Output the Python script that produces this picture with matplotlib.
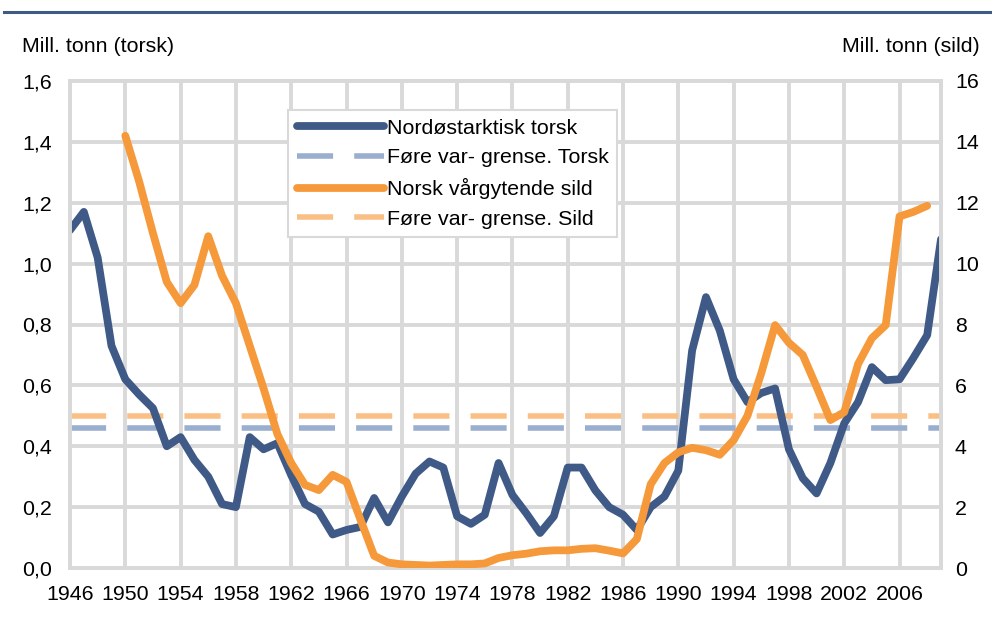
import numpy as np
import matplotlib
matplotlib.use("Agg")
import matplotlib.pyplot as plt
from matplotlib.lines import Line2D

# Data
torsk_years = list(range(1946, 2010))
torsk = [1.11, 1.17, 1.02, 0.73, 0.62, 0.57, 0.525, 0.40, 0.43, 0.355,
         0.30, 0.21, 0.20, 0.43, 0.39, 0.41, 0.305, 0.21, 0.185, 0.11,
         0.125, 0.135, 0.23, 0.15, 0.235, 0.31, 0.35, 0.33, 0.17, 0.145,
         0.175, 0.345, 0.24, 0.18, 0.115, 0.17, 0.33, 0.33, 0.255, 0.20,
         0.175, 0.125, 0.20, 0.235, 0.32, 0.715, 0.89, 0.78, 0.62, 0.545,
         0.575, 0.59, 0.39, 0.295, 0.245, 0.345, 0.475, 0.545, 0.66, 0.617,
         0.62, 0.69, 0.765, 1.08]

sild_years = list(range(1950, 2009))
sild = [14.2, 12.7, 11.0, 9.4, 8.7, 9.3, 10.9, 9.6, 8.7, 7.3,
        5.9, 4.4, 3.45, 2.73, 2.56, 3.06, 2.83, 1.6, 0.4, 0.18,
        0.12, 0.1, 0.08, 0.1, 0.12, 0.12, 0.15, 0.33, 0.42, 0.47,
        0.55, 0.58, 0.58, 0.63, 0.65, 0.57, 0.48, 0.95, 2.75, 3.45,
        3.8, 3.95, 3.87, 3.72, 4.2, 5.0, 6.4, 7.98, 7.4, 7.0,
        5.95, 4.86, 5.12, 6.7, 7.55, 7.98, 11.55, 11.7, 11.9]

grense_years = [1946, 2009]
grense_torsk = [0.46, 0.46]
grense_sild = [5.0, 5.0]

x_ticks = list(range(1946, 2007, 4))
left_ticks = [0.0, 0.2, 0.4, 0.6, 0.8, 1.0, 1.2, 1.4, 1.6]
right_ticks = [0, 2, 4, 6, 8, 10, 12, 14, 16]

labels = ["Nordøstarktisk torsk", "Føre var- grense. Torsk",
          "Norsk vårgytende sild", "Føre var- grense. Sild"]

BLUE = "#3F5A87"
ORANGE = "#F5993A"
LBLUE = "#9AAED0"
LORANGE = "#FABF85"
GRID = "#D9D9D9"

plt.rcParams['font.family'] = ['Liberation Sans', 'DejaVu Sans']
plt.rcParams['font.size'] = 15.4

fig = plt.figure(figsize=(9.92, 6.19), dpi=100)
ax = fig.add_axes([70/992, 1-568/619, 871/992, 487/619])
ax2 = ax.twinx()

ax.set_xlim(1946, 2009)
ax.set_ylim(0, 1.6)
ax2.set_ylim(0, 16)

dash = (0, (6.5, 3.8))
LW = 5.6

# threshold lines under the solid series
ax.plot(grense_years, grense_torsk, color=LBLUE, lw=4, ls=dash,
        dash_capstyle='butt', zorder=2)
ax.plot(grense_years, grense_sild, color=LORANGE, lw=4, ls=dash,
        dash_capstyle='butt', zorder=2, transform=ax2.transData)
ax.plot(torsk_years, torsk, color=BLUE, lw=LW, solid_capstyle='round',
        solid_joinstyle='round', zorder=3)
ax2.plot(sild_years, sild, color=ORANGE, lw=LW, solid_capstyle='round',
         solid_joinstyle='round', zorder=3)

ax.set_xticks(x_ticks)
ax.set_yticks(left_ticks)
ax.set_yticklabels([f"{v:.1f}".replace(".", ",") for v in left_ticks])
ax2.set_yticks(right_ticks)

ax.grid(True, color=GRID, lw=2.8, zorder=0)
ax.set_axisbelow(True)
for a in (ax, ax2):
    for s in a.spines.values():
        s.set_color(GRID)
        s.set_linewidth(2.8)
ax.tick_params(axis='x', length=0, pad=12)
ax.tick_params(axis='y', length=0, pad=13)
ax2.tick_params(axis='y', length=0, pad=10)

fig.text(22/992, 1-46/619, "Mill. tonn (torsk)", ha='left', va='center')
fig.text(980/992, 1-46/619, "Mill. tonn (sild)", ha='right', va='center')

# blue rule at the top
fig.add_artist(Line2D([4/992, 1], [1-12/619, 1-12/619], color=BLUE, lw=2.2))

handles = [
    Line2D([], [], color=BLUE, lw=LW, solid_capstyle='round'),
    Line2D([], [], color=LBLUE, lw=4, ls=dash, dash_capstyle='butt'),
    Line2D([], [], color=ORANGE, lw=LW, solid_capstyle='round'),
    Line2D([], [], color=LORANGE, lw=4, ls=dash, dash_capstyle='butt'),
]
leg = fig.legend(handles, labels, loc='upper left',
                 bbox_to_anchor=(288/992, 1-110/619), frameon=True,
                 fancybox=False, edgecolor=GRID, framealpha=1,
                 handlelength=4.07, handletextpad=0.14, labelspacing=0.5,
                 borderpad=0.4, borderaxespad=0)
leg.get_frame().set_linewidth(1.5)

fig.savefig("out.png", dpi=100)
